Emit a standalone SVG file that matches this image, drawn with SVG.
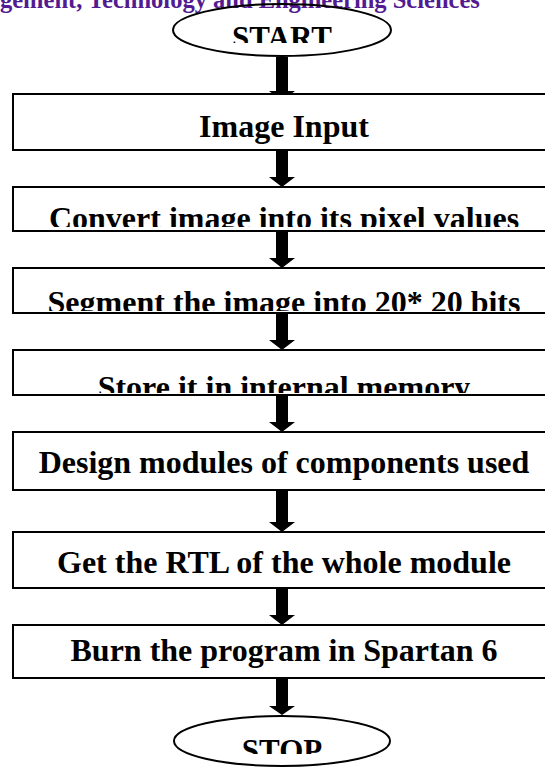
<svg xmlns="http://www.w3.org/2000/svg" width="545" height="767" viewBox="0 0 545 767">
<style>
.bx{fill:#fff;stroke:#000;stroke-width:2}
.el{fill:#fff;stroke:#000;stroke-width:2}
.t{font-family:"Liberation Serif","Times New Roman",serif;font-weight:bold;font-size:32px;fill:#000;text-anchor:middle}
.te{font-size:31px}
.hdr{font-family:"Liberation Serif","Times New Roman",serif;font-weight:bold;font-size:24.5px;fill:#521b92}
</style>
<defs>
<clipPath id="cStart"><rect x="0" y="0" width="545" height="43"/></clipPath>
<clipPath id="cConv"><rect x="0" y="186" width="545" height="41"/></clipPath>
<clipPath id="cSeg"><rect x="0" y="268" width="545" height="43"/></clipPath>
<clipPath id="cStore"><rect x="0" y="350" width="545" height="43"/></clipPath>
<clipPath id="cStop"><rect x="0" y="715" width="545" height="39"/></clipPath>
</defs>
<rect width="545" height="767" fill="#fff"/>
<text class="hdr" x="0" y="8">gement, Technology and Engineering Sciences</text>
<g id="connectors" fill="#000">
<path d="M276,57 H288 V91 H295 L282,101 269,91 H276 Z"/>
<path d="M276,150 H288 V177 H295 L282,187 269,177 H276 Z"/>
<path d="M276,231 H288 V258 H295 L282,268 269,258 H276 Z"/>
<path d="M276,313 H288 V340 H295 L282,350 269,340 H276 Z"/>
<path d="M276,395 H288 V422 H295 L282,432 269,422 H276 Z"/>
<path d="M276,490 H288 V522 H295 L282,532 269,522 H276 Z"/>
<path d="M276,588 H288 V615 H295 L282,625 269,615 H276 Z"/>
<path d="M276,678 H288 V706 H295 L282,715 269,706 H276 Z"/>
</g>
<g id="start">
<ellipse class="el" cx="282" cy="30" rx="109" ry="26" style="fill:none"/>
<text class="t te" x="282" y="48" clip-path="url(#cStart)">START</text>
</g>
<g id="n1">
<rect class="bx" x="13" y="94" width="545" height="56"/>
<text class="t" x="284" y="137">Image Input</text>
</g>
<g id="n2">
<rect class="bx" x="13" y="187" width="545" height="44"/>
<text class="t" x="284" y="229" clip-path="url(#cConv)">Convert image into its pixel values</text>
</g>
<g id="n3">
<rect class="bx" x="13" y="268" width="545" height="45"/>
<text class="t" x="284" y="313" clip-path="url(#cSeg)">Segment the image into 20* 20 bits</text>
</g>
<g id="n4">
<rect class="bx" x="13" y="350" width="545" height="45"/>
<text class="t" x="284" y="398" clip-path="url(#cStore)">Store it in internal memory</text>
</g>
<g id="n5">
<rect class="bx" x="13" y="432" width="545" height="58"/>
<text class="t" x="284" y="473">Design modules of components used</text>
</g>
<g id="n6">
<rect class="bx" x="13" y="532" width="545" height="56"/>
<text class="t" x="284" y="573">Get the RTL of the whole module</text>
</g>
<g id="n7">
<rect class="bx" x="13" y="625" width="545" height="53"/>
<text class="t" x="284" y="661">Burn the program in Spartan 6</text>
</g>
<g id="stop">
<ellipse class="el" cx="282" cy="741" rx="108" ry="25"/>
<text class="t te" x="282" y="761" clip-path="url(#cStop)">STOP</text>
</g>
</svg>
